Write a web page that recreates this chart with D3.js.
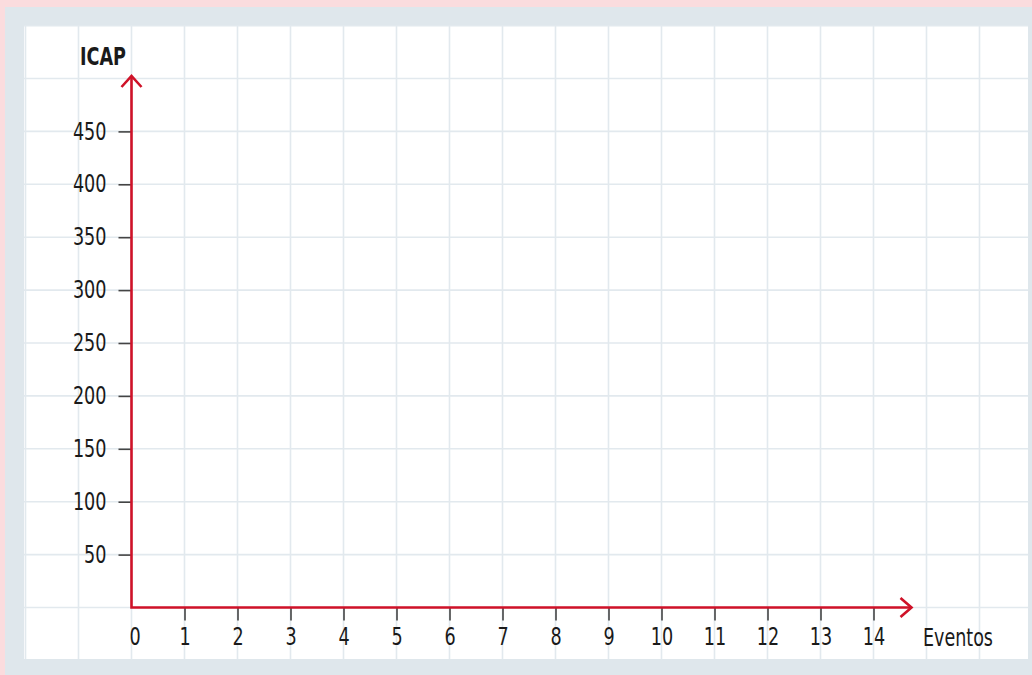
<!DOCTYPE html>
<html>
<head>
<meta charset="utf-8">
<script src="https://cdn.jsdelivr.net/npm/d3@7"></script>
<style>
  body { margin: 0; background: #fff; }
  svg text { font-family: "Liberation Sans Narrow", "DejaVu Sans Condensed", "DejaVu Sans", sans-serif; fill: #1a1a1a; }
</style>
</head>
<body>
<svg id="chart" width="1032" height="675"></svg>
<script>
// DATA
const xTicks = d3.range(0, 15);           // 0..14 events
const yTicks = d3.range(50, 500, 50);     // 50..450
const xLabel = 'Eventos';
const yLabel = 'ICAP';

//SETUP
const svg = d3.select('#chart');
const width = +svg.attr('width');
const height = +svg.attr('height');

const red = '#cf1228';
const gridColor = '#e2e9ee';

// the reference font is a tall, narrow face: squeeze the text to its width
function squeeze(sel, perChar) {
  sel.each(function () {
    const t = d3.select(this);
    t.attr('textLength', t.text().length * perChar)
      .attr('lengthAdjust', 'spacingAndGlyphs');
  });
}

// pink outer band + blue-grey frame + white sheet
svg.append('rect').attr('width', width).attr('height', height).attr('fill', '#fbdcde');
svg.append('rect').attr('x', 5).attr('y', 7).attr('width', width - 5).attr('height', height - 7).attr('fill', '#dfe7ec');

const sheet = { x: 24, y: 25, w: 1004, h: 634 };
svg.append('rect')
  .attr('x', sheet.x).attr('y', sheet.y)
  .attr('width', sheet.w).attr('height', sheet.h)
  .attr('fill', '#fff');

svg.append('clipPath').attr('id', 'sheet')
  .append('rect')
  .attr('x', sheet.x).attr('y', sheet.y)
  .attr('width', sheet.w).attr('height', sheet.h);

//SCALE
const xScale = d3.scaleLinear().domain([0, 15]).range([131.5, 926.5]);
const yScale = d3.scaleLinear().domain([0, 500]).range([607.5, 78.5]);

//GRID
const grid = svg.append('g').attr('clip-path', 'url(#sheet)')
  .attr('stroke', gridColor).attr('stroke-width', 1.6);

grid.selectAll('.vgrid')
  .data(d3.range(-2, 18))
  .join('line')
  .attr('x1', (d) => xScale(d)).attr('x2', (d) => xScale(d))
  .attr('y1', sheet.y).attr('y2', sheet.y + sheet.h);

grid.selectAll('.hgrid')
  .data(d3.range(-50, 600, 50))
  .join('line')
  .attr('y1', (d) => yScale(d)).attr('y2', (d) => yScale(d))
  .attr('x1', sheet.x).attr('x2', sheet.x + sheet.w);

//AXIS
const yAxis = d3.axisLeft(yScale)
  .tickValues(yTicks)
  .tickSize(13)
  .tickPadding(12);

const gy = svg.append('g')
  .attr('transform', `translate(${xScale(0)},0)`)
  .call(yAxis);

const xAxis = d3.axisBottom(xScale)
  .tickValues(xTicks)
  .tickSize(13)
  .tickPadding(7);

const gx = svg.append('g')
  .attr('transform', `translate(0,${yScale(0)})`)
  .call(xAxis);

[gx, gy].forEach((g) => {
  g.select('.domain').remove();
  g.selectAll('.tick line').attr('stroke', '#444').attr('stroke-width', 1.6);
  g.selectAll('.tick text')
    .attr('fill', '#1a1a1a')
    .style('font-size', '24px')
    .call(squeeze, 11.2);
});

// no tick mark under the origin, and nudge the 0 off the red axis
gx.selectAll('.tick').filter((d) => d === 0).select('line').remove();
gx.selectAll('.tick').filter((d) => d === 0).select('text').attr('dx', 3);

// red axes with open arrow heads
const ax = svg.append('g')
  .attr('stroke', red)
  .attr('stroke-width', 2.6)
  .attr('fill', 'none')
  .attr('stroke-linecap', 'butt');

const x0 = xScale(0);
const y0 = yScale(0);
const yTop = yScale(500) - 2.5;
const xEnd = xScale(14) + 38;

ax.append('path').attr('d', `M${x0},${yTop} V${y0} H${xEnd}`).attr('stroke-linejoin', 'miter');
ax.append('path').attr('d', `M${x0 - 10},${yTop + 11} L${x0},${yTop} L${x0 + 10},${yTop + 11}`);
ax.append('path').attr('d', `M${xEnd - 11},${y0 - 9.5} L${xEnd},${y0} L${xEnd - 11},${y0 + 9.5}`);

//LABELS
svg.append('text')
  .attr('x', 126)
  .attr('y', 65)
  .attr('text-anchor', 'end')
  .style('font-size', '24px')
  .style('font-weight', 'bold')
  .text(yLabel)
  .call(squeeze, 11.5);

svg.append('text')
  .attr('x', 923)
  .attr('y', 646)
  .style('font-size', '24px')
  .text(xLabel)
  .call(squeeze, 10);
</script>
</body>
</html>
